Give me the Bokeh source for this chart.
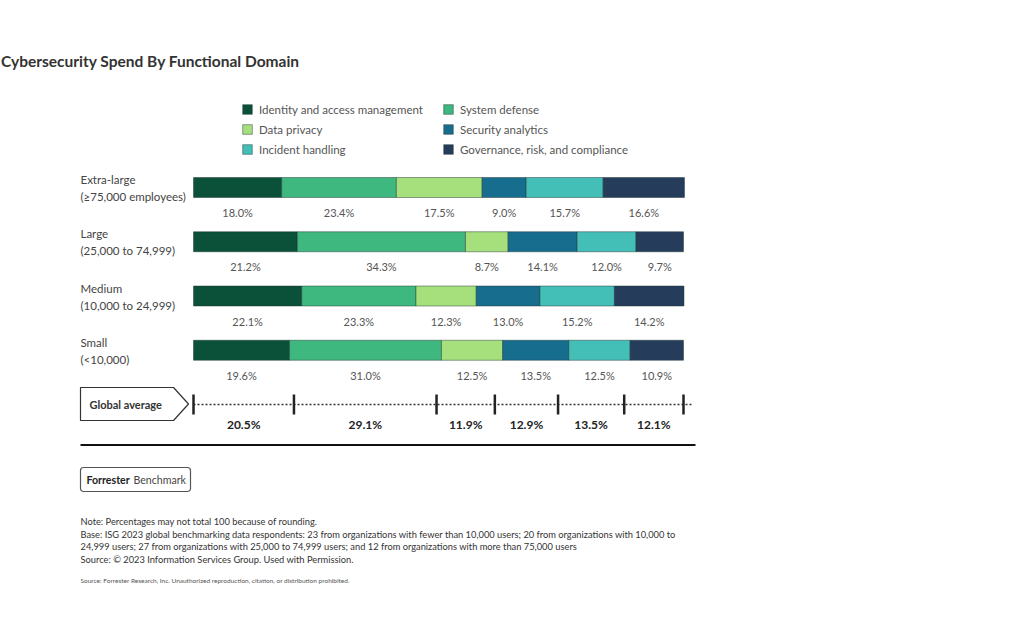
from bokeh.plotting import figure
from bokeh.models import Range1d, Legend, LegendItem, ColumnDataSource
from bokeh.core.properties import value
from bokeh.embed import file_html
from bokeh.resources import INLINE
import numpy as np

# ---------------- data ----------------
title = "Cybersecurity Spend By Functional Domain"
series = ["Identity and access management", "System defense", "Data privacy",
          "Security analytics", "Incident handling", "Governance, risk, and compliance"]
colors = ["#0b5139", "#3fb87f", "#a6e07d", "#176d8e", "#44bfb7", "#253d5b"]
cat_line1 = ["Extra-large", "Large", "Medium", "Small"]
cat_line2 = ["(\u226575,000 employees)", "(25,000 to 74,999)", "(10,000 to 24,999)", "(<10,000)"]
identity = [18.0, 21.2, 22.1, 19.6]
system_defense = [23.4, 34.3, 23.3, 31.0]
data_privacy = [17.5, 8.7, 12.3, 12.5]
security_analytics = [9.0, 14.1, 13.0, 13.5]
incident_handling = [15.7, 12.0, 15.2, 12.5]
governance = [16.6, 9.7, 14.2, 10.9]
global_average = [20.5, 29.1, 11.9, 12.9, 13.5, 12.1]
global_label = "Global average"
notes = [
    "Note: Percentages may not total 100 because of rounding.",
    "Base: ISG 2023 global benchmarking data respondents: 23 from organizations with fewer than 10,000 users; 20 from organizations with 10,000 to",
    "24,999 users; 27 from organizations with 25,000 to 74,999 users; and 12 from organizations with more than 75,000 users",
    "Source: \u00a9 2023 Information Services Group. Used with Permission.",
]
source_line = "Source: Forrester Research, Inc. Unauthorized reproduction, citation, or distribution prohibited."

values = [identity, system_defense, data_privacy, security_analytics, incident_handling, governance]

# ---------------- geometry helpers (page pixels -> data) ----------------
W, H = 1008, 601
PXX = 4.9          # pixels per percent
X0 = 193           # page x of 0 %
ROW = 54.25        # pixels per row
Y0 = 187           # page y of row 0


def X(px):
    return (px - X0) / PXX


def Y(py):
    return (py - Y0) / ROW


FONT = value("Lato")

p = figure(width=W, height=H, output_backend="svg", toolbar_location=None,
           x_range=Range1d(X(0), X(W)), y_range=Range1d(Y(H), Y(0)),
           min_border=0, outline_line_color=None)
p.axis.visible = False
p.grid.visible = False
p.background_fill_color = "white"

rows = list(range(len(cat_line1)))
bar_h = 20 / ROW

# stacked bars
left = np.zeros(len(rows))
renderers = []
for name, vals, col in zip(series, values, colors):
    vals = np.array(vals)
    src = ColumnDataSource(dict(y=rows, left=left, right=left + vals,
                                mid=left + vals / 2,
                                lab=[f"{v:.1f}%" for v in vals]))
    r = p.hbar(y="y", left="left", right="right", height=bar_h, source=src,
               fill_color=col, line_color="#1d3030", line_alpha=0.45, line_width=1)
    renderers.append(r)
    p.text(x="mid", y="y", text="lab", source=src, text_font=FONT,
           text_font_size="11px", text_color="#555555", text_align="center",
           text_baseline="middle", y_offset=25)
    left = left + vals

# category labels
p.text(x=[X(80)] * len(rows), y=rows, text=cat_line1, text_font=FONT,
       text_font_size="11.5px", text_color="#444444", text_baseline="middle", y_offset=-8)
p.text(x=[X(80)] * len(rows), y=rows, text=cat_line2, text_font=FONT,
       text_font_size="11.5px", text_color="#444444", text_baseline="middle", y_offset=9)

# global average row
gy = len(rows)
bounds = np.concatenate([[0], np.cumsum(global_average)])
p.segment(x0=[0], y0=[gy], x1=[X(692)], y1=[gy], line_color="#333333",
          line_width=1.6, line_dash="2 2")
p.segment(x0=bounds, y0=[gy - 10 / ROW] * len(bounds), x1=bounds,
          y1=[gy + 10 / ROW] * len(bounds), line_color="#222222", line_width=2.5)
mids = (bounds[:-1] + bounds[1:]) / 2
p.text(x=mids, y=[gy] * len(mids), text=[f"{v:.1f}%" for v in global_average],
       text_font=FONT, text_font_size="12px", text_font_style="bold",
       text_color="#222222", text_align="center", text_baseline="middle", y_offset=20)

# global average arrow box
bx = [X(80), X(173), X(188), X(173), X(80)]
by = [Y(387), Y(387), Y(403.5), Y(420), Y(420)]
p.patch(bx, by, fill_color="white", line_color="#333333", line_width=1.2)
p.text(x=[X(89)], y=[Y(404)], text=[global_label], text_font=FONT,
       text_font_size="11px", text_font_style="bold", text_color="#333333",
       text_baseline="middle")

# bottom rule
p.segment(x0=[X(80)], y0=[Y(444.5)], x1=[X(695)], y1=[Y(444.5)],
          line_color="#111111", line_width=2)

# Forrester Benchmark box
p.quad(left=[X(80)], right=[X(190)], top=[Y(467)], bottom=[Y(491)],
       fill_color="white", line_color="#555555", line_width=1.2, border_radius=3)
p.text(x=[X(86)], y=[Y(479)], text=["Forrester"], text_font=FONT,
       text_font_size="10.6px", text_font_style="bold", text_color="#222222",
       text_baseline="middle")
p.text(x=[X(133)], y=[Y(479)], text=["Benchmark"], text_font=FONT,
       text_font_size="10.6px", text_color="#444444", text_baseline="middle")

# notes
note_y = [521, 534, 546, 559]
p.text(x=[X(80)] * len(notes), y=[Y(v) for v in note_y], text=notes,
       text_font=FONT, text_font_size="9.3px", text_color="#333333",
       text_baseline="middle")
p.text(x=[X(80)], y=[Y(580)], text=[source_line], text_font=FONT,
       text_font_size="6.5px", text_color="#555555", text_baseline="middle")

# title
p.text(x=[X(0.5)], y=[Y(60)], text=[title], text_font=FONT, text_font_size="15.5px",
       text_font_style="bold", text_color="#333333", text_baseline="middle")

# legend (column-major layout: left column first)
order = [0, 2, 4, 1, 3, 5]
items = [LegendItem(label=series[i], renderers=[renderers[i]]) for i in order]
legend = Legend(items=items, ncols=2, location=(241, 445), padding=0, margin=0,
                spacing=6, glyph_width=12, glyph_height=12, label_standoff=6,
                label_width=177, label_height=14,
                label_text_font="Lato", label_text_font_size="11.5px",
                label_text_color="#555555", border_line_color=None,
                background_fill_alpha=0)
p.add_layout(legend, "center")

open("out.html", "w").write(file_html(p, INLINE))
